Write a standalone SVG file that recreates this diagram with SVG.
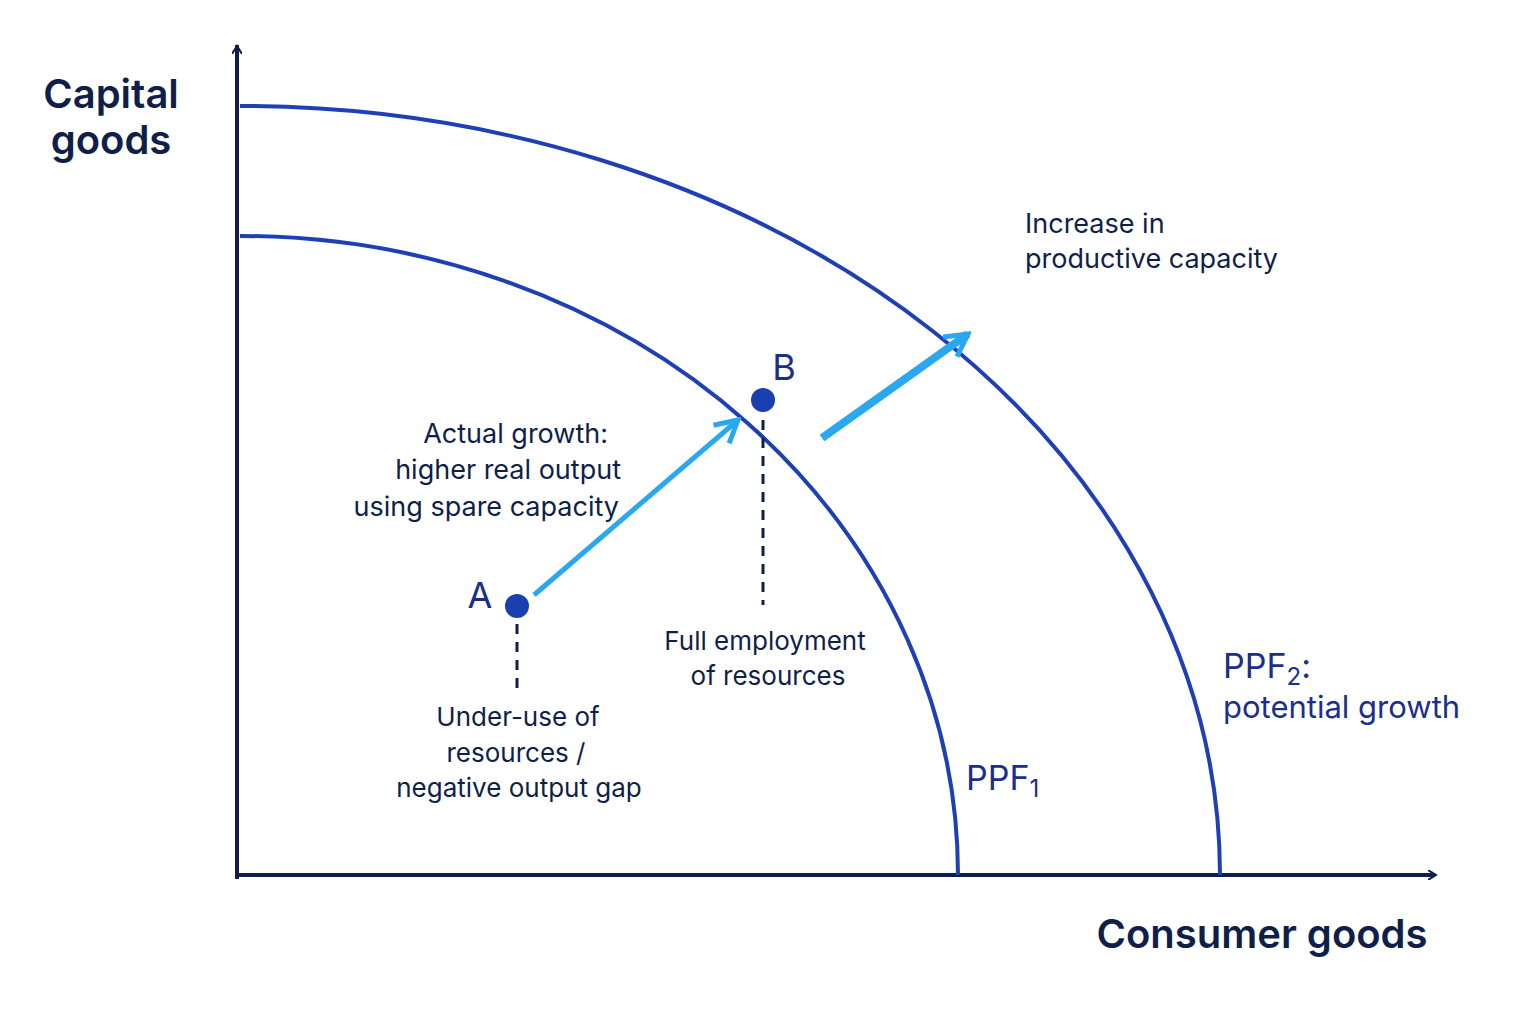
<svg xmlns="http://www.w3.org/2000/svg" width="1536" height="1024" viewBox="0 0 1536 1024">
<defs>
<style>
.t{font-family:"Inter","Liberation Sans",sans-serif;fill:#0f1f4a}
.curve{fill:none;stroke:#1f40b5;stroke-width:4}
.dash{stroke:#0f1f4a;stroke-width:3;stroke-dasharray:10,8}
</style>
<marker id="ax" markerWidth="10" markerHeight="10" refX="7" refY="5" orient="auto" markerUnits="userSpaceOnUse" viewBox="0 0 10 10"><path d="M0,0 L8,5 L0,10" fill="none" stroke="#0f1f4a" stroke-width="2"/></marker>
<marker id="bl" markerWidth="30" markerHeight="30" refX="26" refY="15" orient="auto" markerUnits="userSpaceOnUse"><path d="M4,3 L26,15 L4,27" fill="none" stroke="#29a8f0" stroke-width="5"/></marker>
</defs>
<rect width="1536" height="1024" fill="#fff"/>
<g id="axes">
<line x1="237" y1="877" x2="237" y2="47" stroke="#0f1f4a" stroke-width="4" marker-end="url(#ax)" style="stroke-linecap:square"/>
<line x1="235" y1="875" x2="1435" y2="875" stroke="#0f1f4a" stroke-width="4" marker-end="url(#ax)"/>
</g>
<g id="ppf1"><path class="curve" d="M240,236 A718 639 0 0 1 958 875"/></g>
<g id="ppf2"><path class="curve" d="M240,106 A980 769 0 0 1 1220 875"/></g>
<g id="connectors">
<line x1="534" y1="595" x2="738" y2="420" stroke="#29a8f0" stroke-width="5" marker-end="url(#bl)"/>
<line x1="822" y1="438" x2="968" y2="334" stroke="#29a8f0" stroke-width="8" marker-end="url(#bl)"/>
<line class="dash" x1="517" y1="624" x2="517" y2="692"/>
<line class="dash" x1="763" y1="420" x2="763" y2="605"/>
</g>
<g id="pointA"><circle cx="517" cy="606" r="12" fill="#1a3fb0"/><text class="t" x="480" y="608" font-size="36" text-anchor="middle" fill="#1a2f8a" style="fill:#1a2f8a">A</text></g>
<g id="pointB"><circle cx="763" cy="400" r="12" fill="#1a3fb0"/><text class="t" x="784" y="380" font-size="36" text-anchor="middle" style="fill:#1a2f8a">B</text></g>
<g id="labels">
<text class="t" x="111" y="108" font-size="40" font-weight="600" text-anchor="middle">Capital</text>
<text class="t" x="111" y="154" font-size="40" font-weight="600" text-anchor="middle">goods</text>
<text class="t" x="1262" y="948" font-size="40" font-weight="600" text-anchor="middle">Consumer goods</text>
<text class="t" x="1025" y="233" font-size="27">Increase in</text>
<text class="t" x="1025" y="268" font-size="27">productive capacity</text>
<text class="t" font-size="27" text-anchor="end"><tspan x="608" y="443">Actual growth:</tspan><tspan x="621" y="479">higher real output</tspan><tspan x="619" y="516">using spare capacity</tspan></text>
<text class="t" font-size="26" text-anchor="middle"><tspan x="765" y="650">Full employment</tspan><tspan x="768" y="685">of resources</tspan></text>
<text class="t" font-size="26" text-anchor="middle"><tspan x="518" y="726">Under-use of</tspan><tspan x="516" y="762">resources /</tspan><tspan x="519" y="797">negative output gap</tspan></text>
<text class="t" x="966" y="790" font-size="34" style="fill:#1a2f8a">PPF<tspan font-size="24" dy="7">1</tspan></text>
<text class="t" x="1223" y="678" font-size="34" style="fill:#1a2f8a">PPF<tspan font-size="24" dy="7">2</tspan><tspan dy="-7">:</tspan></text>
<text class="t" x="1223" y="718" font-size="31" style="fill:#1a2f8a">potential growth</text>
</g>
</svg>
